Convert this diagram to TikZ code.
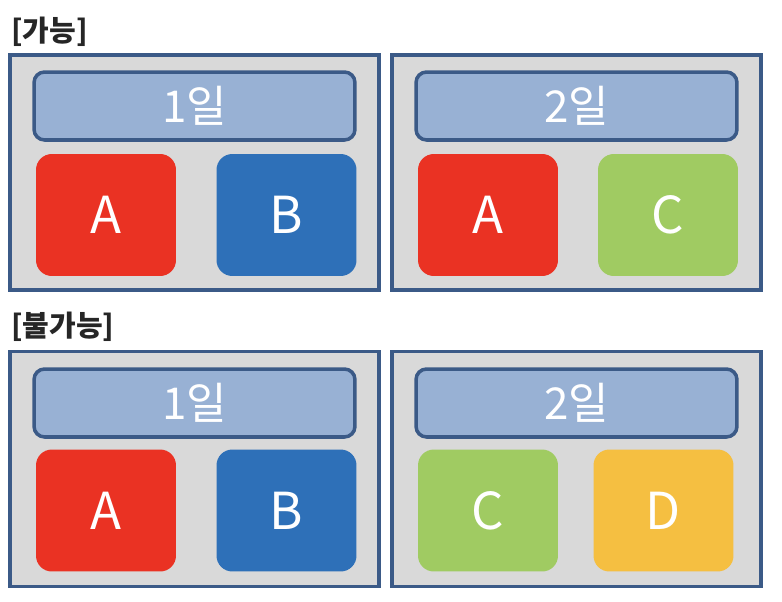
\documentclass[tikz,border=0pt]{standalone}
\usepackage{fontspec}
\setmainfont{Noto Sans CJK KR}
\newfontfamily\labelfont{Noto Sans CJK KR}

\definecolor{framecol}{HTML}{3B5A87}
\definecolor{panelcol}{HTML}{D9D9D9}
\definecolor{daycol}{HTML}{98B1D4}
\definecolor{redcol}{HTML}{EA3223}
\definecolor{bluecol}{HTML}{2E70B8}
\definecolor{greencol}{HTML}{A0CB62}
\definecolor{yellowcol}{HTML}{F5BF41}

\begin{document}
\begin{tikzpicture}[x=0.02cm, y=-0.02cm,
    panel/.style = {
      draw = framecol,
      fill = panelcol,
      line width = 2pt,
      minimum width = 7.38cm,
      minimum height = 4.7cm
    },
    day/.style = {
      draw = framecol,
      fill = daycol,
      line width = 2pt,
      rounded corners = 6pt,
      minimum width = 6.42cm,
      minimum height = 1.36cm,
      text = white,
      font = \fontsize{25}{28}\selectfont
    },
    task/.style = {
      fill = #1,
      rounded corners = 9pt,
      minimum width = 2.8cm,
      minimum height = 2.44cm,
      text = white,
      font = \fontsize{29}{32}\selectfont
    },
    heading/.style = {
      anchor = west,
      inner sep = 0pt,
      text = black!85,
      font = \labelfont\bfseries\fontsize{16.5}{19}\selectfont
    }
  ]
  \useasboundingbox (0,0) rectangle (782,602);

  % possible
  \node[heading] (ok) at (11,32) {[가능]};
  \node[panel] (okL) at (194.5,172.5) {};
  \node[panel] (okR) at (576.5,172.5) {};
  \node[day] (okL1) at (194.5,106) {1일};
  \node[day] (okR2) at (576.5,106) {2일};
  \node[task=redcol]    (okLA) at (106,215) {A};
  \node[task=bluecol]   (okLB) at (286.5,215) {B};
  \node[task=redcol]    (okRA) at (488,215) {A};
  \node[task=greencol]  (okRC) at (668,215) {C};

  % not possible
  \node[heading] (no) at (11,327) {[불가능]};
  \node[panel] (noL) at (194.5,469) {};
  \node[panel] (noR) at (576.5,469) {};
  \node[day] (noL1) at (194.5,403) {1일};
  \node[day] (noR2) at (576.5,403) {2일};
  \node[task=redcol]    (noLA) at (106,510.5) {A};
  \node[task=bluecol]   (noLB) at (286.5,510.5) {B};
  \node[task=greencol]  (noRC) at (488,510.5) {C};
  \node[task=yellowcol] (noRD) at (663.5,510.5) {D};
\end{tikzpicture}
\end{document}
